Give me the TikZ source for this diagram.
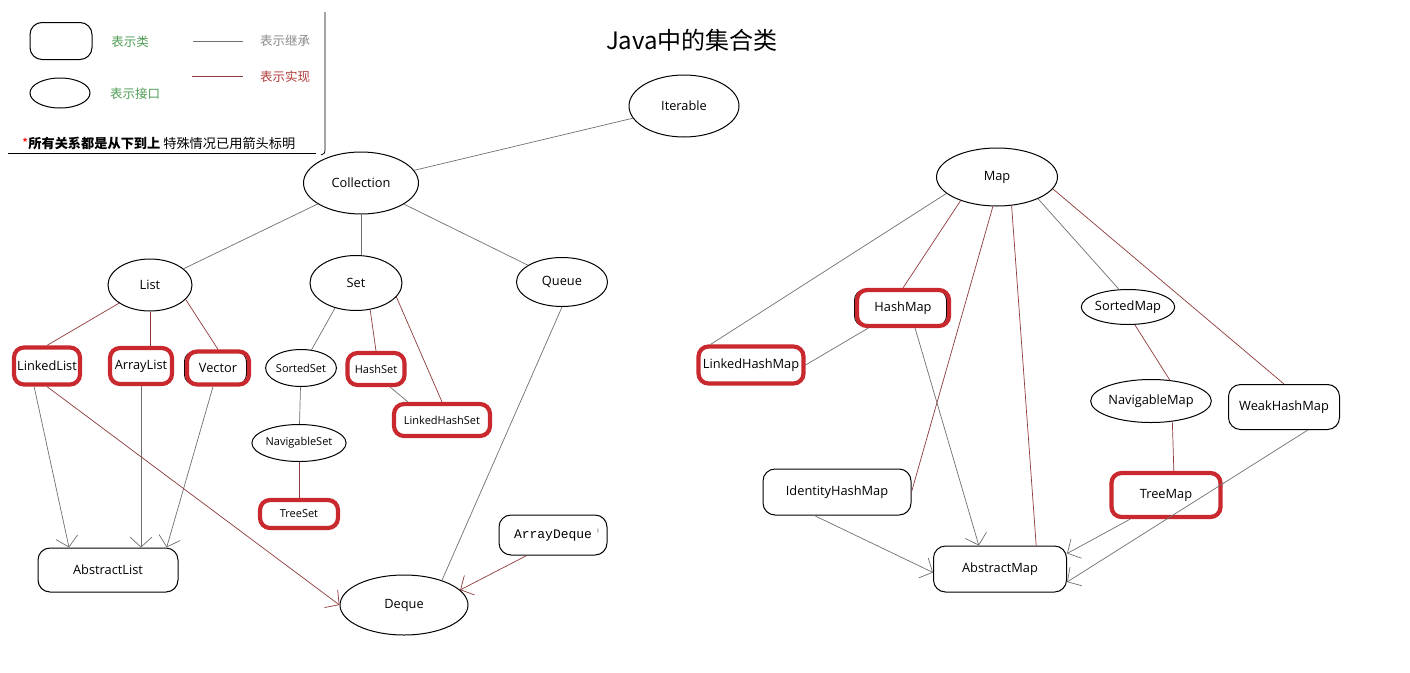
\documentclass[tikz,border=0pt]{standalone}
\usepackage{fontspec}
\setmainfont{Open Sans}
\newfontfamily\cjkfont{Noto Sans CJK SC}
\newfontfamily\monofont{Liberation Mono}
\usetikzlibrary{arrows.meta,shapes.geometric,calc}
\definecolor{boxred}{HTML}{C8282E}
\definecolor{inhgray}{HTML}{707070}
\definecolor{implred}{HTML}{8E3A3A}
\definecolor{keygreen}{HTML}{4F9D55}
\definecolor{keyred}{HTML}{B23B3B}
\definecolor{keygray}{HTML}{8A8A8A}
\newcommand\lblfont{\fontsize{12.8}{15}\selectfont}
\newcommand\smlfont{\fontsize{11}{13}\selectfont}
\newcommand\keyfont{\cjkfont\fontsize{12.5}{14}\selectfont}

\begin{document}
\begin{tikzpicture}[x=1pt, y=-1pt, every node/.style={font=\lblfont, inner sep=0pt}, iface/.style={draw, ellipse, line width=1pt}, cls/.style={draw, rectangle, rounded corners=12pt, line width=1pt}, rcls/.style={draw=boxred, rectangle, rounded corners=10pt, line width=4.2pt}, shadowed/.style={preaction={draw=black, line width=1pt, transform canvas={xshift=-2.5pt}}}, inh/.style={draw=inhgray, line width=0.7pt}, impl/.style={draw=implred, line width=0.7pt}, arr/.style={-{Straight Barb[length=10pt,width=22pt]}}]
\fill[white] (0,0) rectangle (1410,672);
\useasboundingbox (0,0) rectangle (1410,672);

% key
\node[cls, minimum width=62pt, minimum height=37pt] (keycls) at (61,41) {};
\node[text=keygreen, font=\keyfont] (keyclstxt) at (130,42) {表示类};
\node[iface, minimum width=60pt, minimum height=30pt] (keyiface) at (60,93) {};
\node[text=keygreen, font=\keyfont] (keyifacetxt) at (135,94) {表示接口};
\draw[inh] (193,41) -- (243,41);
\node[text=keygray, font=\keyfont] (keyinhtxt) at (285,41) {表示继承};
\draw[impl] (192,76) -- (243,76);
\node[text=keyred, font=\keyfont] (keyimpltxt) at (285,77) {表示实现};
\node[anchor=west, font=\cjkfont\fontsize{13.2}{15}\selectfont] (keynote) at (22,143) {\textcolor{red}{*}\textbf{所有关系都是从下到上}\ 特殊情况已用箭头标明};
\draw[line width=0.8pt] (8,153) -- (316,153);
\draw[line width=0.8pt] (325,12) -- (325,150) .. controls (325,153) .. (321,155);

\node[font=\cjkfont\fontsize{24}{28}\selectfont] (title) at (692,40) {Java中的集合类};

% Collection side
\node[iface, minimum width=110pt, minimum height=62pt] (Iterable) at (684,106) {Iterable};
\node[iface, minimum width=115pt, minimum height=62pt] (Collection) at (361,183) {Collection};
\node[iface, minimum width=84pt, minimum height=52pt] (List) at (150,285) {List};
\node[iface, minimum width=92pt, minimum height=55pt] (Set) at (356,283) {Set};
\node[iface, minimum width=91pt, minimum height=49pt] (Queue) at (562,282) {Queue};
\node[rcls, minimum width=66pt, minimum height=37pt] (LinkedList) at (47,366) {LinkedList};
\node[rcls, minimum width=62pt, minimum height=36pt] (ArrayList) at (141,366) {ArrayList};
\node[rcls, shadowed, minimum width=62pt, minimum height=33pt] (Vector) at (218,368) {Vector};
\node[iface, font=\smlfont, minimum width=67pt, minimum height=37pt] (SortedSet) at (301,368) {SortedSet};
\node[rcls, font=\smlfont, minimum width=57pt, minimum height=32pt] (HashSet) at (376,369) {HashSet};
\node[rcls, font=\smlfont, minimum width=96pt, minimum height=32pt] (LinkedHashSet) at (442,420) {LinkedHashSet};
\node[iface, font=\smlfont, minimum width=78pt, minimum height=37pt] (NavigableSet) at (299,443) {NavigableSet};
\node[rcls, font=\smlfont, minimum width=78pt, minimum height=28pt] (TreeSet) at (299,514) {TreeSet};
\node[cls, minimum width=140pt, minimum height=44pt] (AbstractList) at (108,570) {AbstractList};
\node[iface, minimum width=128pt, minimum height=60pt] (Deque) at (404,605) {Deque};
\node[cls, font=\monofont\fontsize{13}{15}\selectfont, minimum width=108pt, minimum height=40pt] (ArrayDeque) at (553,535) {ArrayDeque\rlap{\,\color{black!35}'}};

\draw[inh] (Collection) -- (Iterable);
\draw[inh] (List) -- (Collection);
\draw[inh] (Collection.south) -- (Collection.south |- Set.north);
\draw[inh] (Queue) -- (Collection);
\draw[impl] (LinkedList.north) -- (List);
\draw[impl] (List.south) -- (List.south |- ArrayList.north);
\draw[impl] (Vector.north) -- (List.-22);
\draw[inh] (SortedSet.60) -- (Set.-130);
\draw[impl] (HashSet.north) -- (Set.-62);
\draw[impl] (LinkedHashSet.north) -- (Set.-19);
\draw[inh] (HashSet.-52) -- (LinkedHashSet.152);
\draw[inh] (SortedSet) -- (NavigableSet);
\draw[impl] (NavigableSet) -- (TreeSet);
\draw[inh,arr] (LinkedList.-122) -- (AbstractList.150);
\draw[inh,arr] (ArrayList.south) -- (ArrayList.south |- AbstractList.north);
\draw[inh,arr] (Vector.-105) -- (AbstractList.21);
\draw[impl,arr] (LinkedList.south) -- (Deque.west);
\draw[inh] (Queue.south) -- (Deque.33);
\draw[impl,arr] (ArrayDeque.-142) -- (Deque.15);

% Map side
\node[iface, minimum width=121pt, minimum height=58pt] (Map) at (997,177) {Map};
\node[rcls, shadowed, minimum width=92pt, minimum height=36pt] (HashMap) at (903,308) {HashMap};
\node[rcls, minimum width=105pt, minimum height=37pt] (LinkedHashMap) at (751,365) {LinkedHashMap};
\node[iface, minimum width=85pt, minimum height=35pt] (SortedMap) at (1128,307) {SortedMap};
\node[iface, minimum width=114pt, minimum height=43pt] (NavigableMap) at (1151,401) {NavigableMap};
\node[cls, minimum width=111pt, minimum height=45pt] (WeakHashMap) at (1284,407) {WeakHashMap};
\node[cls, minimum width=148pt, minimum height=46pt] (IdentityHashMap) at (837,492) {IdentityHashMap};
\node[rcls, minimum width=109pt, minimum height=44pt] (TreeMap) at (1166,495) {TreeMap};
\node[cls, minimum width=133pt, minimum height=46pt] (AbstractMap) at (1000,569) {AbstractMap};

\draw[inh] (Map.-162) -- (LinkedHashMap.153);
\draw[impl] (Map.-147) -- (HashMap.north);
\draw[inh] (HashMap.-150) -- (LinkedHashMap.east);
\draw[impl] (Map.-98) -- (IdentityHashMap.east);
\draw[impl] (Map.-63) -- (AbstractMap.33);
\draw[inh] (Map.-28) -- (SortedMap.117);
\draw[impl] (Map.-12) -- (WeakHashMap.north);
\draw[impl] (SortedMap.-69) -- (NavigableMap.48);
\draw[impl] (NavigableMap.-44) -- (TreeMap.72);
\draw[inh,arr] (HashMap.-59) -- (AbstractMap.132);
\draw[inh,arr] (TreeMap.-146) -- (AbstractMap.13);
\draw[inh,arr] (WeakHashMap.-44) -- (AbstractMap.-11);
\draw[inh,arr] (IdentityHashMap.-134) -- (AbstractMap.-177);
\end{tikzpicture}
\end{document}
